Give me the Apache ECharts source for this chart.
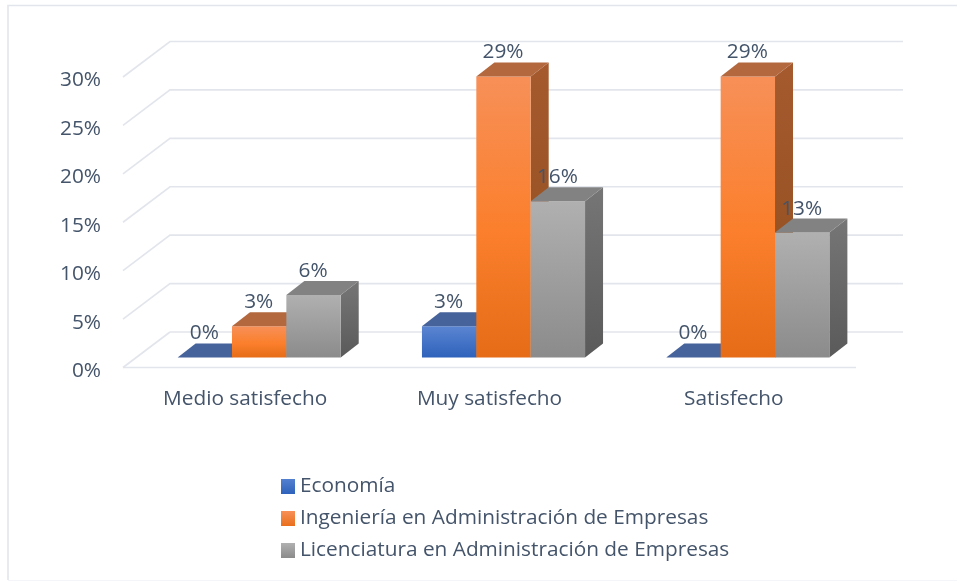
<!DOCTYPE html>
<html>
<head>
<meta charset="utf-8">
<style>html,body{margin:0;padding:0;background:#fff}#c{width:957px;height:581px}</style>
<script src="https://cdn.jsdelivr.net/npm/echarts@6/dist/echarts.min.js"></script>
</head>
<body>
<div id="c"></div>
<script>
var categories = ['Medio satisfecho', 'Muy satisfecho', 'Satisfecho'];
var seriesNames = ['Economía', 'Ingeniería en Administración de Empresas', 'Licenciatura en Administración de Empresas'];
var economia = [0, 3.23, 0];
var ingenieria = [3.23, 29.03, 29.03];
var licenciatura = [6.45, 16.13, 12.9];
var yTicks = [0, 5, 10, 15, 20, 25, 30];

var TEXT = '#44546a', GRID = '#e2e5ec', FONT = '"Open Sans", sans-serif', FS = 20.8;
var WALL_DX = 47, WALL_DY = 35.5, DEPTH_X = 18, DEPTH_Y = 14, BASE_X = 14, BASE_Y = 10;

function grad(a, b, m) {
  var stops = [{offset: 0, color: a}, {offset: 1, color: b}];
  if (m) stops.splice(1, 0, {offset: 0.55, color: m});
  return {type: 'linear', x: 0, y: 0, x2: 0, y2: 1, colorStops: stops};
}
var palette = [
  {front: grad('#5b85d2', '#2e62bb'), top: '#46639b', side: grad('#3a5a94', '#2a4a84'), legend: grad('#5480d0', '#2e62bb')},
  {front: grad('#f79058', '#e66c18', '#fb7f2c'), top: '#b4683e', side: grad('#a65a2e', '#8e4e1e'), legend: grad('#f79058', '#e96f1c')},
  {front: grad('#b0b0b0', '#8b8b8b'), top: '#828282', side: grad('#767676', '#5a5a5a'), legend: grad('#b0b0b0', '#8b8b8b')}
];

function barSeries(idx, values) {
  return {
    name: seriesNames[idx],
    type: 'custom',
    data: values.map(function (v, i) { return [i, v]; }),
    encode: {x: 0, y: 1},
    itemStyle: {color: palette[idx].legend},
    z: 3 + idx,
    renderItem: function (params, api) {
      var p = api.coord([api.value(0), api.value(1)]);
      var o = api.coord([api.value(0), 0]);
      var w = api.size([1, 0])[0] * 0.2225;
      var x = p[0] + BASE_X + (idx - 1.5) * w;
      var yt = p[1] - BASE_Y, yb = o[1] - BASE_Y;
      var c = palette[idx];
      var val = api.value(1);
      var children = [];
      if (yb - yt > 0.5) {
        children.push({type: 'polygon', shape: {points: [[x + w, yt], [x + w + DEPTH_X, yt - DEPTH_Y], [x + w + DEPTH_X, yb - DEPTH_Y], [x + w, yb]]}, style: {fill: c.side}});
        children.push({type: 'rect', shape: {x: x, y: yt, width: w, height: yb - yt}, style: {fill: c.front}});
      }
      children.push({type: 'polygon', shape: {points: [[x, yt], [x + w, yt], [x + w + DEPTH_X, yt - DEPTH_Y], [x + DEPTH_X, yt - DEPTH_Y]]}, style: {fill: c.top}});
      children.push({type: 'text', z2: 50, style: {x: x + w / 2 - 0.5, y: yt - 24, text: Math.round(val) + '%', fill: TEXT, font: FS + 'px ' + FONT, align: 'center', verticalAlign: 'middle'}});
      return {type: 'group', children: children};
    }
  };
}

var wallSeries = {
  type: 'custom',
  silent: true,
  z: 1,
  legendHoverLink: false,
  data: yTicks.map(function (t) { return [0, t]; }),
  encode: {x: 0, y: 1},
  renderItem: function (params, api) {
    var v = api.value(1);
    var a = api.coord([0, v]);
    var l = params.coordSys.x, r = params.coordSys.x + params.coordSys.width, y = a[1];
    var style = {stroke: GRID, lineWidth: 1.6, fill: null};
    if (v === 0) {
      return {type: 'group', children: [
        {type: 'polyline', shape: {points: [[l, y], [r, y]]}, style: style},
        {type: 'polyline', shape: {points: [[l, y], [l + WALL_DX, y - WALL_DY]]}, style: style},
        {type: 'polyline', shape: {points: [[l + WALL_DX, y - WALL_DY], [r + WALL_DX, y - WALL_DY]]}, style: style}
      ]};
    }
    return {type: 'polyline', shape: {points: [[l, y], [l + WALL_DX, y - WALL_DY], [r + WALL_DX, y - WALL_DY]]}, style: style};
  }
};

var chart = echarts.init(document.getElementById('c'), null, {renderer: 'canvas'});
chart.setOption({
  animation: false,
  backgroundColor: '#fff',
  grid: {left: 123, right: 101, top: 77, bottom: 213.5, containLabel: false},
  graphic: [
    {type: 'polyline', shape: {points: [[8, 580], [8, 5.5], [957, 5.5]]}, style: {stroke: '#e2e5ec', lineWidth: 1.6, fill: null}},
    {type: 'line', shape: {x1: 8, y1: 580.5, x2: 957, y2: 580.5}, style: {stroke: '#f4f5f8', lineWidth: 1}}
  ],
  legend: {
    orient: 'vertical', left: 276, top: 471, itemWidth: 14, itemHeight: 15, itemGap: 11, icon: 'rect',
    textStyle: {color: TEXT, fontFamily: FONT, fontSize: FS, lineHeight: 21},
    selectedMode: false,
    data: seriesNames.map(function (n, i) { return {name: n, itemStyle: {color: palette[i].legend}}; })
  },
  xAxis: {
    type: 'category', data: categories,
    axisLine: {show: false}, axisTick: {show: false}, splitLine: {show: false},
    axisLabel: {color: TEXT, fontFamily: FONT, fontSize: FS, margin: 21}
  },
  yAxis: {
    type: 'value', min: 0, max: 30, interval: 5,
    axisLine: {show: false}, axisTick: {show: false}, splitLine: {show: false},
    axisLabel: {color: TEXT, fontFamily: FONT, fontSize: FS, margin: 22, verticalAlign: 'top', lineHeight: 7, formatter: '{value}%'}
  },
  series: [wallSeries, barSeries(0, economia), barSeries(1, ingenieria), barSeries(2, licenciatura)]
});
</script>
</body>
</html>
